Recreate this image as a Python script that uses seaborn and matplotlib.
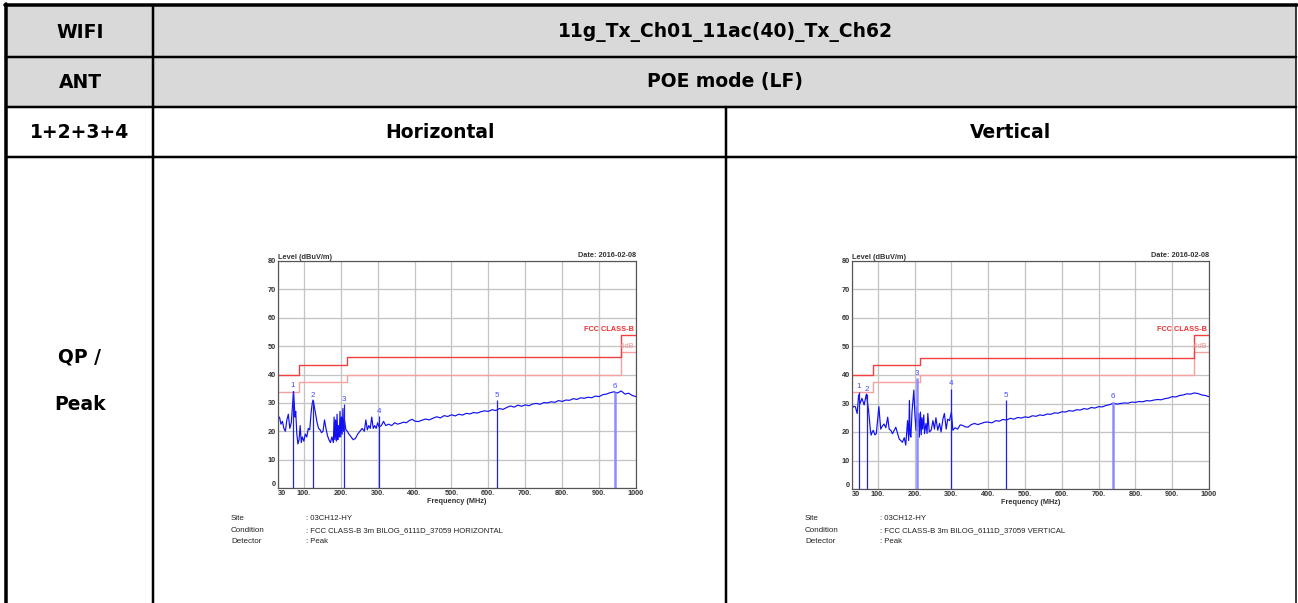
import matplotlib
matplotlib.use("Agg")
import matplotlib.pyplot as plt
import pandas as pd
import seaborn as sns

# ---- data ----
limit_freq = [30, 88, 216, 960, 1000]
fcc_class_b = [40, 43.5, 46, 54, 54]
fcc_6db = [34, 37.5, 40, 48, 48]

h_freq = [30, 34, 38, 42, 46, 50, 54, 58, 62, 66, 70, 72, 74, 76, 78, 81, 84, 87, 90, 93,
          96, 100, 104, 108, 112, 116, 120, 123, 125, 128, 132, 136, 140, 144, 148, 152, 156,
          160, 164, 168, 172, 176, 180, 182, 184, 186, 188, 190, 192, 194, 196, 198, 200, 202,
          204, 206, 208, 210, 214,
          218, 222, 228, 234, 240, 246, 252, 258, 264, 268, 272, 276, 280, 284, 288, 292, 296,
          300, 304, 310, 316, 322, 330, 338, 346, 354, 362, 370, 378, 386, 394, 400,
          410, 420, 430, 440, 450, 460, 470, 480, 490, 500, 510, 520, 530, 540, 550, 560,
          570, 580, 590, 600, 610, 620, 630, 640, 650, 660, 670, 680, 690, 700, 710, 720,
          730, 740, 750, 760, 770, 780, 790, 800, 810, 820, 830, 840, 850, 860, 870, 880,
          890, 900, 910, 920, 930, 940, 950, 960, 970, 980, 990, 1000]
h_level = [24.5, 25, 22.5, 23.5, 21, 20, 24, 26, 21, 23, 30, 34, 30, 25, 27, 19, 15.5, 17, 22, 16,
           18, 16.5, 19, 18, 21, 20.5, 27, 30, 31, 29, 26, 23, 21, 20.5, 19.5, 20, 24,
           21, 18.5, 17, 16, 18, 16, 25, 17, 24, 16.5, 26, 17, 22, 18, 27, 18, 25,
           19, 28, 20, 24, 20.5,
           20, 19, 18, 17, 17.5, 19, 20, 21, 20, 24, 20.5, 22, 21, 25, 21, 22, 21,
           23, 21.5, 22, 23.5, 22, 22.5, 22, 23, 22.5, 22.8, 23.2, 23, 23.8, 24.2, 23.6,
           23.4, 23.9, 24.3, 24.0, 24.6, 25.1, 24.7, 25.5, 25.2, 25.8, 25.4, 26.0, 25.7, 26.3, 26.1, 26.6,
           26.4, 26.9, 27.2, 27.0, 27.6, 27.3, 28.0, 27.7, 28.4, 28.9, 28.5, 29.2, 28.8, 29.3, 29.0, 29.6,
           29.8, 29.5, 30.1, 30.0, 30.4, 30.2, 30.8, 30.5, 31.0, 30.9, 31.5, 31.2, 31.8, 31.6, 32.0, 31.8,
           32.4, 32.2, 32.9, 33.1, 33.6, 33.9, 33.5, 34.2, 33.1, 33.4, 32.6, 32.2]

v_freq = [30, 35, 39, 44, 48, 52, 57, 63, 69, 75, 80, 82, 85, 88, 92, 96, 103, 108, 112, 117,
          122, 127, 131, 136, 140, 149, 158, 167, 172, 176, 181, 184, 186, 188, 190, 193, 195,
          198, 201, 204, 207, 209, 211, 213, 216, 218, 220, 222, 225, 227, 231, 234, 236, 240,
          245, 250, 254, 258, 263, 268, 272, 277, 281, 286, 290, 295, 300,
          304, 310, 317, 324, 331, 338, 345, 354, 363, 372, 381, 390, 399, 410, 421,
          430, 440, 450, 460, 470, 480, 490, 500, 510, 520, 530, 540, 550, 560, 570, 580,
          590, 600, 610, 620, 630, 640, 650, 660, 670, 680, 690, 700, 710, 720, 730, 740,
          750, 760, 770, 780, 790, 800, 810, 820, 830, 840, 850, 860, 870, 880, 890, 900,
          910, 920, 930, 940, 950, 960, 970, 980, 990, 1000]
v_level = [28.3, 29, 28.9, 26.5, 33, 30, 31.8, 29.5, 33.3, 27.6, 20.6, 18.9, 20, 20.6, 19, 19.4, 28.9, 21, 22, 22.8,
           21.5, 25.2, 21, 20.5, 19.4, 21.7, 17.6, 16.4, 18, 15.4, 24, 17, 31.1, 19, 18.2, 27, 30,
           34.7, 26, 20.6, 29, 22, 26.5, 18.2, 27, 19, 25, 21, 26, 19.4, 23, 19.5, 26.5, 20,
           20.6, 24, 21, 25, 20.6, 23, 20, 24.5, 26.5, 21, 24.5, 24, 27,
           20.6, 21.5, 21, 22.5, 22.3, 21.8, 21.7, 22.6, 23, 22.6, 23, 23.4, 23.5, 23.2, 24,
           23.8, 24.4, 24.2, 24.8, 24.5, 25.1, 24.9, 25.3, 25.1, 25.7, 25.5, 26.0, 25.8, 26.3, 26.2, 26.7,
           26.6, 27.1, 27.0, 27.5, 27.3, 27.8, 27.7, 28.2, 28.0, 28.6, 28.4, 28.9, 28.8, 29.3, 29.6, 30.1,
           29.8, 30.0, 30.2, 30.1, 30.5, 30.4, 30.7, 30.6, 31.0, 30.9, 31.2, 31.4, 31.3, 31.7, 31.9, 32.4,
           32.3, 32.8, 33.0, 33.4, 33.3, 33.7, 33.5, 33.0, 32.8, 32.4]

h_mark_freq = [71, 125, 209, 304, 624, 942]
h_mark_level = [34.2, 30.9, 29.5, 25.3, 30.9, 33.8]
h_mark_light = [False, False, False, False, False, True]
v_mark_freq = [48, 70, 207, 300, 449, 738]
v_mark_level = [34.1, 33.2, 38.8, 35.1, 31.1, 30.6]
v_mark_light = [False, False, True, False, False, True]

x_ticks = [30, 100, 200, 300, 400, 500, 600, 700, 800, 900, 1000]
x_tick_labels = ["30", "100.", "200.", "300.", "400.", "500.", "600.", "700.", "800.", "900.", "1000"]
y_ticks = [0, 10, 20, 30, 40, 50, 60, 70, 80]

footer_keys = ["Site", "Condition", "Detector"]
h_footer = [": 03CH12-HY", ": FCC CLASS-B 3m BILOG_6111D_37059 HORIZONTAL", ": Peak"]
v_footer = [": 03CH12-HY", ": FCC CLASS-B 3m BILOG_6111D_37059 VERTICAL", ": Peak"]

W, H = 1298, 603
sns.set_theme(style="white")
plt.rcParams["font.family"] = ["Liberation Sans", "DejaVu Sans"]

fig = plt.figure(figsize=(W / 100, H / 100), dpi=100)
fig.patch.set_facecolor("white")

# ---- table background in pixel coordinates ----
bg = fig.add_axes([0, 0, 1, 1], zorder=0)
bg.set_xlim(0, W)
bg.set_ylim(H, 0)
bg.axis("off")
bg.add_patch(plt.Rectangle((7, 5), 1289, 102, color="#d9d9d9", lw=0))
px = 0.72
bg.plot([5, 1297], [5, 5], color="black", lw=3.5 * px)
bg.plot([6, 6], [4, 603], color="black", lw=3.5 * px)
bg.plot([1296, 1296], [4, 603], color="black", lw=1.5 * px)
for yy in [57, 107, 157]:
    bg.plot([6, 1296], [yy, yy], color="black", lw=2.5 * px)
bg.plot([153, 153], [5, 603], color="black", lw=2.5 * px)
bg.plot([726, 726], [107, 603], color="black", lw=2.5 * px)

hdr = dict(ha="center", va="center", fontsize=13.5, fontweight="bold", color="black",
           family="DejaVu Sans")
bg.text(80, 32, "WIFI", **hdr)
bg.text(725, 32, "11g_Tx_Ch01_11ac(40)_Tx_Ch62", **hdr)
bg.text(80, 82, "ANT", **hdr)
bg.text(725, 82, "POE mode (LF)", **hdr)
bg.text(80, 132, "1+2+3+4", **hdr)
bg.text(440, 132, "Horizontal", **hdr)
bg.text(1011, 132, "Vertical", **hdr)
bg.text(80, 357, "QP /", **hdr)
bg.text(80, 405, "Peak", **hdr)

for x0, vals in [(231, h_footer), (805, v_footer)]:
    for i, (k, v) in enumerate(zip(footer_keys, vals)):
        bg.text(x0, 519 + i * 11.3, k, fontsize=5.8, va="center", ha="left", color="#222222")
        bg.text(x0 + 75, 519 + i * 11.3, v, fontsize=5.6, va="center", ha="left", color="#222222")


def emi_plot(rect, freq, level, mfreq, mlevel, mlight):
    ax = fig.add_axes([rect[0] / W, 1 - rect[3] / H, (rect[2] - rect[0]) / W,
                       (rect[3] - rect[1]) / H], zorder=2)
    ax.set_facecolor("white")
    ax.set_xlim(30, 1000)
    ax.set_ylim(0, 80)
    ax.set_xticks(x_ticks)
    ax.set_xticklabels(x_tick_labels)
    ax.set_yticks(y_ticks)
    ax.set_yticklabels([str(v) for v in y_ticks])
    ax.grid(True, color="#c4c4c4", lw=1.3 * px)
    for s in ax.spines.values():
        s.set_color("#555555")
        s.set_linewidth(1.2 * px)
    ax.tick_params(length=0, pad=1.5, labelsize=5.3, colors="#333333")
    for lab in ax.get_xticklabels() + ax.get_yticklabels():
        lab.set_fontweight("bold")
    ax.get_xticklabels()[0].set_horizontalalignment("left")
    ax.get_yticklabels()[0].set_verticalalignment("bottom")

    lim = pd.DataFrame({"f": limit_freq, "a": fcc_class_b, "b": fcc_6db})
    sns.lineplot(data=lim, x="f", y="b", ax=ax, color="#f7a0a0", lw=1.0, drawstyle="steps-post")
    sns.lineplot(data=lim, x="f", y="a", ax=ax, color="#f04040", lw=1.0, drawstyle="steps-post")

    tr = pd.DataFrame({"f": freq, "lvl": level})
    sns.lineplot(data=tr, x="f", y="lvl", ax=ax, color="#1010f0", lw=0.85, sort=False)

    for f, l, light in zip(mfreq, mlevel, mlight):
        if light:
            ax.vlines(f, 0, l, color="#8c8cff", lw=1.8)
        else:
            ax.vlines(f, 0, l, color="#2020e0", lw=0.9)
    for i, (f, l) in enumerate(zip(mfreq, mlevel)):
        ax.text(f, l + 0.6, str(i + 1), ha="center", va="bottom", fontsize=5.8, color="#4a4aff")

    ax.text(995, 54.8, "FCC CLASS-B", ha="right", va="bottom", fontsize=5.3, fontweight="bold",
            color="#f03030")
    ax.text(995, 48.6, "-6dB", ha="right", va="bottom", fontsize=5.3, color="#f29090")
    ax.text(0, 1.0, "Level (dBuV/m)", transform=ax.transAxes, ha="left", va="bottom",
            fontsize=5.3, fontweight="bold", color="#333333")
    ax.text(1, 1.01, "Date: 2016-02-08", transform=ax.transAxes, ha="right", va="bottom",
            fontsize=5.3, fontweight="bold", color="#333333")
    ax.set_xlabel("Frequency (MHz)", fontsize=5.3, fontweight="bold", color="#333333", labelpad=1)
    ax.set_ylabel("")
    return ax


emi_plot((278, 261, 636, 488), h_freq, h_level, h_mark_freq, h_mark_level, h_mark_light)
emi_plot((852, 261, 1209, 489), v_freq, v_level, v_mark_freq, v_mark_level, v_mark_light)

fig.savefig("out.png", dpi=100)
